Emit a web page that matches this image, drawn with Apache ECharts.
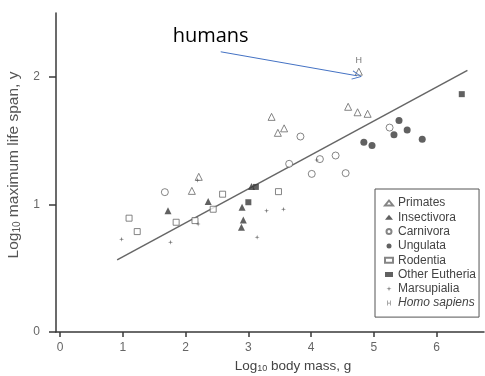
<!DOCTYPE html>
<html>
<head>
<meta charset="utf-8">
<script src="https://cdn.jsdelivr.net/npm/echarts@6/dist/echarts.min.js"></script>
<style>
html,body{margin:0;padding:0;background:#fff;}
#chart{width:485px;height:376px;}
</style>
</head>
<body>
<div id="chart"></div>
<script>
// ---- data (log10 body mass, log10 maximum life span) ----
const xTicks = [0, 1, 2, 3, 4, 5, 6];
const yTicks = [0, 1, 2];
const categories = ['Primates', 'Insectivora', 'Carnivora', 'Ungulata', 'Rodentia', 'Other Eutheria', 'Marsupialia', 'Homo sapiens'];

const primatesX = [2.10, 2.21, 3.37, 3.47, 3.57, 4.59, 4.74, 4.90];
const primatesY = [1.106, 1.216, 1.686, 1.561, 1.596, 1.765, 1.722, 1.710];

const insectivoraX = [1.72, 2.36, 2.90, 2.92, 2.89, 3.05];
const insectivoraY = [0.951, 1.022, 0.978, 0.878, 0.821, 1.14];

const carnivoraX = [1.67, 3.65, 4.01, 4.14, 3.83, 4.39, 4.55, 5.25];
const carnivoraY = [1.096, 1.318, 1.239, 1.355, 1.532, 1.383, 1.245, 1.602];

const ungulataX = [4.84, 4.97, 5.40, 5.32, 5.53, 5.77];
const ungulataY = [1.488, 1.461, 1.657, 1.545, 1.584, 1.511];

const rodentiaX = [1.10, 1.23, 1.85, 2.15, 2.44, 2.59, 3.48];
const rodentiaY = [0.892, 0.787, 0.860, 0.873, 0.962, 1.08, 1.10];

const otherEutheriaX = [3.12, 3.00, 6.40];
const otherEutheriaY = [1.137, 1.017, 1.864];

const marsupialiaX = [0.98, 1.76, 2.20, 2.19, 3.29, 3.56, 3.14, 4.09];
const marsupialiaY = [0.727, 0.704, 0.847, 1.19, 0.951, 0.962, 0.743, 1.347];

const homoX = [4.76];
const homoY = [2.04];

const fitX = [0.91, 6.49];
const fitY = [0.565, 2.05];

const arrowFrom = [2.56, 2.196];
const arrowTo = [4.73, 2.008];
const humansLabelAt = [2.40, 2.314];

function pairs(xs, ys) { return xs.map((x, i) => [x, ys[i]]); }

const FONT = 'Liberation Sans, Arial, sans-serif';
const starPath = 'path://M5,0 L6,4 L10,5 L6,6 L5,10 L4,6 L0,5 L4,4 Z';
const hPath = 'path://M0,0h1.4v4.3h4.2v-4.3h1.4v10h-1.4v-4.4h-4.2v4.4h-1.4z';
const chevron = 'path://M0,0 L5,10 L4.2,10.6 L0,1.8 L-4.2,10.6 L-5,10 Z';

const openStyle = { color: '#fff', borderColor: '#666', borderWidth: 1 };
const fillStyle = { color: '#3a3a3a', borderColor: '#3a3a3a', borderWidth: 0 };

const chart = echarts.init(document.getElementById('chart'));
chart.setOption({
  animation: false,
  backgroundColor: '#fff',
  textStyle: { fontFamily: FONT },
  grid: { left: 56, right: 1, top: 13, bottom: 44, containLabel: false, outerBoundsMode: 'none' },
  xAxis: {
    type: 'value', min: -0.064, max: 6.754,
    splitLine: { show: false },
    axisLine: { onZero: false, lineStyle: { color: '#3a3a3a', width: 1.5 } },
    axisTick: { show: true, length: 5, customValues: xTicks, lineStyle: { color: '#3a3a3a', width: 1.5 } },
    axisLabel: { customValues: xTicks, margin: 10, color: '#666', fontSize: 12, fontFamily: FONT },
    name: 'Log{sub|10} body mass, g',
    nameLocation: 'middle', nameGap: 26,
    nameTextStyle: {
      color: '#444', fontSize: 13.5, fontFamily: FONT, padding: [0, 0, 0, 46],
      rich: { sub: { fontSize: 9, verticalAlign: 'bottom', padding: [6, 0, 0, 0], color: '#444' } }
    }
  },
  yAxis: {
    type: 'value', min: 0, max: 2.5,
    splitLine: { show: false },
    axisLine: { onZero: false, lineStyle: { color: '#3a3a3a', width: 1.5 } },
    axisTick: { show: true, length: 7, customValues: yTicks, lineStyle: { color: '#3a3a3a', width: 1.5 } },
    axisLabel: { customValues: yTicks, margin: 16, color: '#666', fontSize: 12, fontFamily: FONT },
    name: 'Log{sub|10} maximum life span, y',
    nameLocation: 'middle', nameGap: 29, nameRotate: 90,
    nameTextStyle: {
      color: '#555', fontSize: 15.5, fontFamily: FONT, padding: [0, 0, 0, 15],
      rich: { sub: { fontSize: 10, verticalAlign: 'bottom', padding: [7, 0, 0, 0], color: '#555' } }
    }
  },
  legend: {
    selectedMode: false,
    orient: 'vertical',
    left: 375, top: 189,
    padding: [7, 3, 7, 9],
    borderColor: '#555', borderWidth: 1,
    itemWidth: 8, itemHeight: 5, itemGap: 0.3,
    textStyle: { color: '#444', fontSize: 12, lineHeight: 14, fontFamily: FONT },
    data: [
      'Primates', 'Insectivora', 'Carnivora', 'Ungulata', 'Rodentia', 'Other Eutheria', 'Marsupialia',
      { name: 'Homo sapiens', icon: hPath, itemStyle: { color: '#666', borderWidth: 0 }, textStyle: { fontStyle: 'italic' } }
    ]
  },
  series: [
    { name: categories[0], type: 'scatter', symbol: 'triangle', symbolSize: 7, itemStyle: openStyle, data: pairs(primatesX, primatesY) },
    { name: categories[1], type: 'scatter', symbol: 'triangle', symbolSize: 7, itemStyle: fillStyle, data: pairs(insectivoraX, insectivoraY) },
    { name: categories[2], type: 'scatter', symbol: 'circle', symbolSize: 7, itemStyle: openStyle, data: pairs(carnivoraX, carnivoraY) },
    { name: categories[3], type: 'scatter', symbol: 'circle', symbolSize: 7, itemStyle: fillStyle, data: pairs(ungulataX, ungulataY) },
    { name: categories[4], type: 'scatter', symbol: 'rect', symbolSize: 6, itemStyle: openStyle, data: pairs(rodentiaX, rodentiaY) },
    { name: categories[5], type: 'scatter', symbol: 'rect', symbolSize: 6, itemStyle: fillStyle, data: pairs(otherEutheriaX, otherEutheriaY) },
    { name: categories[6], type: 'scatter', symbol: starPath, symbolSize: 5, itemStyle: { color: '#555' }, data: pairs(marsupialiaX, marsupialiaY) },
    {
      name: categories[7], type: 'scatter', symbol: 'triangle', symbolSize: 7, itemStyle: openStyle,
      label: { show: true, position: 'top', distance: 3, formatter: 'H', color: '#555', fontSize: 9, fontFamily: FONT },
      data: pairs(homoX, homoY),
      markLine: {
        silent: true, animation: false,
        symbol: ['none', chevron], symbolSize: [9, 10],
        lineStyle: { color: '#4472C4', width: 1, type: 'solid' },
        label: { show: false },
        data: [[{ coord: arrowFrom }, { coord: arrowTo }]]
      },
      markPoint: {
        silent: true, animation: false,
        symbol: 'rect', symbolSize: 1, itemStyle: { color: 'rgba(0,0,0,0)' },
        label: { show: true, position: 'inside', formatter: 'humans', color: '#000', fontSize: 20, fontFamily: 'Open Sans, sans-serif' },
        data: [{ coord: humansLabelAt }]
      }
    },
    {
      name: 'fit', type: 'line', symbol: 'none', silent: true,
      lineStyle: { color: '#666', width: 1.5 },
      data: pairs(fitX, fitY), z: 1
    }
  ]
});
</script>
</body>
</html>
